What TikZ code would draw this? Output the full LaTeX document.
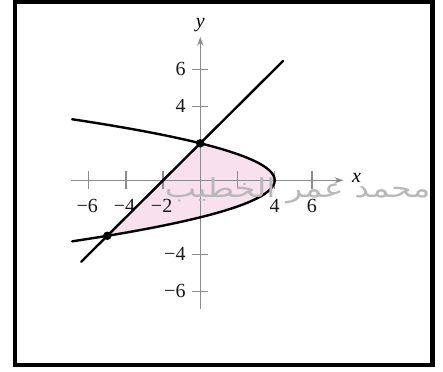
\documentclass[tikz,border=0pt]{standalone}
\usepackage{fontspec}
\setmainfont{Liberation Serif}
\newfontfamily\arabicfont[Script=Arabic]{DejaVu Sans}
\TeXXeTstate=1
\usepackage{xcolor}
\usepackage{graphicx}
\usetikzlibrary{arrows.meta}
\definecolor{regionpink}{RGB}{249,224,237}
\definecolor{axisgray}{RGB}{140,140,140}

\begin{document}
\begin{tikzpicture}[
  x=18.6pt, y=18.5pt,
  axis/.style={axisgray, line width=1.3pt},
  arr/.style={-{Stealth[length=9pt, width=6pt]}},
  curve/.style={black, line width=2.4pt, line cap=round},
  dot/.style={circle, fill=black, inner sep=0pt, minimum size=8.5pt},
  ticklab/.style={font=\fontsize{20}{22}\selectfont, text=black!90, inner sep=0pt},
  axlab/.style={font=\fontsize{20}{22}\selectfont\itshape, inner sep=0pt}
]
% frame
\useasboundingbox (-200.3pt,-190.7pt) rectangle (242.7pt,180.3pt);
\draw[line width=4.4pt] (-185.5pt,178.8pt) rectangle (232.2pt,-184.4pt);
% shaded region
\fill[regionpink] (-5,-3) -- (0,2)
  -- plot[domain=2:-3, samples=60, smooth] ({4-\x*\x},\x) -- cycle;
% axes
\draw[axis, arr] (-6.95,0) -- (7.7,0) coordinate (xend);
\draw[axis, arr] (0,-6.95) -- (0,7.76) coordinate (yend);
\node[axlab] (xl) at (8.4,0.15) {x};
\node[axlab] (yl) at (0,8.4) {y};
\foreach \t in {-6,-4,-2,2,4,6}
  \draw[axis] (\t,-9pt) -- (\t,9pt);
\foreach \t in {-4,-6}
  \draw[axis] (-8pt,\t) -- (8pt,\t);
\foreach \t in {4,6}
  \draw[axis] (-8pt,\t) -- (8pt,\t);
\foreach \t in {-6,-4,-2}
  \node[ticklab] (xt\t) at (\t-0.08,-26pt) {−\the\numexpr-\t\relax};
\foreach \t in {4,6}
  \node[ticklab] (xt\t) at (\t,-26pt) {\t};
\foreach \t in {4,6}
  \node[ticklab, anchor=east] (yt\t) at (-14.6pt,\t) {\t};
\foreach \t in {-4,-6}
  \node[ticklab, anchor=east] (yt\t) at (-14.6pt,\t) {−\the\numexpr-\t\relax};
% parabola and line
\draw[curve] plot[domain=3.3:-3.3, samples=80, smooth] ({4-\x*\x},\x);
\draw[curve] (-6.4,-4.4) -- (4.45,6.45);
% intersection points
\node[dot] (p1) at (0,2) {};
\node[dot] (p2) at (-5,-3) {};
% watermark
\node[text=black!28, font=\fontsize{26}{30}\arabicfont, inner sep=0pt,
      anchor=east] (wm) at (230.2pt,-10.5pt)
  {\scalebox{1.28}[1]{\beginR محمد عمر الخطيب\endR}};
\end{tikzpicture}
\end{document}
